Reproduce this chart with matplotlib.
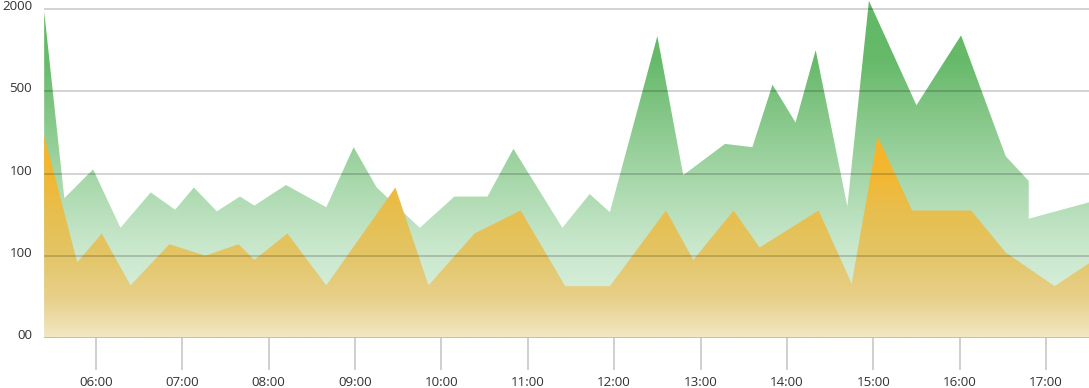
import matplotlib
matplotlib.use('Agg')
import matplotlib.pyplot as plt
import numpy as np
from matplotlib.colors import LinearSegmentedColormap
from matplotlib.transforms import ScaledTranslation

plt.rcParams['font.family'] = ['Open Sans', 'DejaVu Sans']

# ---- data ----
green_times = ["05:24", "05:38", "05:58", "06:17", "06:38", "06:55", "07:08", "07:24",
               "07:40", "07:50", "08:12", "08:40", "08:59", "09:15", "09:45", "10:09",
               "10:32", "10:50", "11:24", "11:43", "11:57", "12:30", "12:48", "13:17",
               "13:36", "13:50", "14:06", "14:20", "14:42", "14:57", "15:30", "16:01",
               "16:32", "16:48", "16:48", "17:30"]
green_values = [3.97, 1.70, 2.05, 1.34, 1.77, 1.56, 1.83, 1.54,
                1.72, 1.61, 1.86, 1.59, 2.32, 1.83, 1.34, 1.72,
                1.72, 2.30, 1.34, 1.75, 1.53, 3.67, 1.98, 2.36,
                2.32, 3.08, 2.62, 3.50, 1.60, 4.10, 2.83, 3.68,
                2.21, 1.91, 1.45, 1.65]

orange_times = ["05:24", "05:47", "06:04", "06:24", "06:51", "07:16", "07:39", "07:50",
                "08:13", "08:40", "09:28", "09:51", "10:23", "10:55", "11:26", "11:57",
                "12:36", "12:55", "13:23", "13:41", "14:22", "14:45", "15:03", "15:27",
                "16:08", "16:32", "17:06", "17:30"]
orange_values = [2.46, 0.92, 1.27, 0.64, 1.14, 1.00, 1.14, 0.95,
                 1.27, 0.64, 1.83, 0.64, 1.27, 1.55, 0.63, 0.63,
                 1.55, 0.95, 1.55, 1.10, 1.55, 0.66, 2.45, 1.55,
                 1.55, 1.04, 0.63, 0.91]

x_tick_labels = ["06:00", "07:00", "08:00", "09:00", "10:00", "11:00",
                 "12:00", "13:00", "14:00", "15:00", "16:00", "17:00"]
y_tick_labels = ["00", "100", "100", "500", "2000"]


def to_hours(t):
    h, m = t.split(":")
    return int(h) + int(m) / 60.0


gx = [to_hours(t) for t in green_times]
ox = [to_hours(t) for t in orange_times]
xt = [to_hours(t) for t in x_tick_labels]

W, H = 1089, 388
fig = plt.figure(figsize=(W / 100, H / 100), dpi=100)
ax = fig.add_axes([44 / W, 50 / H, 1045 / W, 338 / H])

xmin, xmax = 5.398, 17.498
ymax = 338 / 82.25
ax.set_xlim(xmin, xmax)
ax.set_ylim(0, ymax)


def grad_fill(x, y, stops, z):
    poly = ax.fill_between(x, 0, y, facecolor='none', lw=0, zorder=z)
    cmap = LinearSegmentedColormap.from_list('g', [((338 - py) / 338, c) for py, c in stops])
    grad = np.linspace(0, 1, 512).reshape(-1, 1)
    im = ax.imshow(grad, extent=[xmin, xmax, 0, ymax], origin='lower', aspect='auto',
                   cmap=cmap, zorder=z, interpolation='bilinear')
    im.set_clip_path(poly.get_paths()[0], ax.transData)


green_stops = [(338, '#E4F4E6'), (300, '#D8EFDB'), (240, '#C6E6C9'), (170, '#A2D5A5'),
               (100, '#7DC380'), (60, '#66BA6A'), (0, '#62B866')]
orange_stops = [(338, '#F3E8C5'), (300, '#E7D08B'), (250, '#E3C463'), (210, '#E8BE4D'),
                (180, '#F1B835'), (140, '#F7B428'), (100, '#F9B020'), (0, '#FBAE18')]
orange_stops = sorted(orange_stops, key=lambda s: -s[0])
green_stops = sorted(green_stops, key=lambda s: -s[0])

grad_fill(gx, green_values, green_stops, 1)
grad_fill(ox, orange_values, orange_stops, 1.5)

for s in ax.spines.values():
    s.set_visible(False)

ax.set_yticks(range(len(y_tick_labels)))
ax.set_yticklabels(y_tick_labels)
ax.yaxis.grid(True, color='black', alpha=0.17, lw=1.44)
ax.set_axisbelow(False)
ax.tick_params(axis='y', length=0, pad=8.6, labelsize=9.6, labelcolor='#333333')
off = ScaledTranslation(0, 4 / 100, fig.dpi_scale_trans)
for lab in ax.get_yticklabels():
    lab.set_transform(lab.get_transform() + off)

ax.set_xticks(xt)
ax.set_xticklabels(x_tick_labels)
ax.tick_params(axis='x', length=23, width=1.44, color='#d0d0d0', pad=4.3,
               labelsize=9.6, labelcolor='#333333')

fig.savefig('out.png', dpi=100)
